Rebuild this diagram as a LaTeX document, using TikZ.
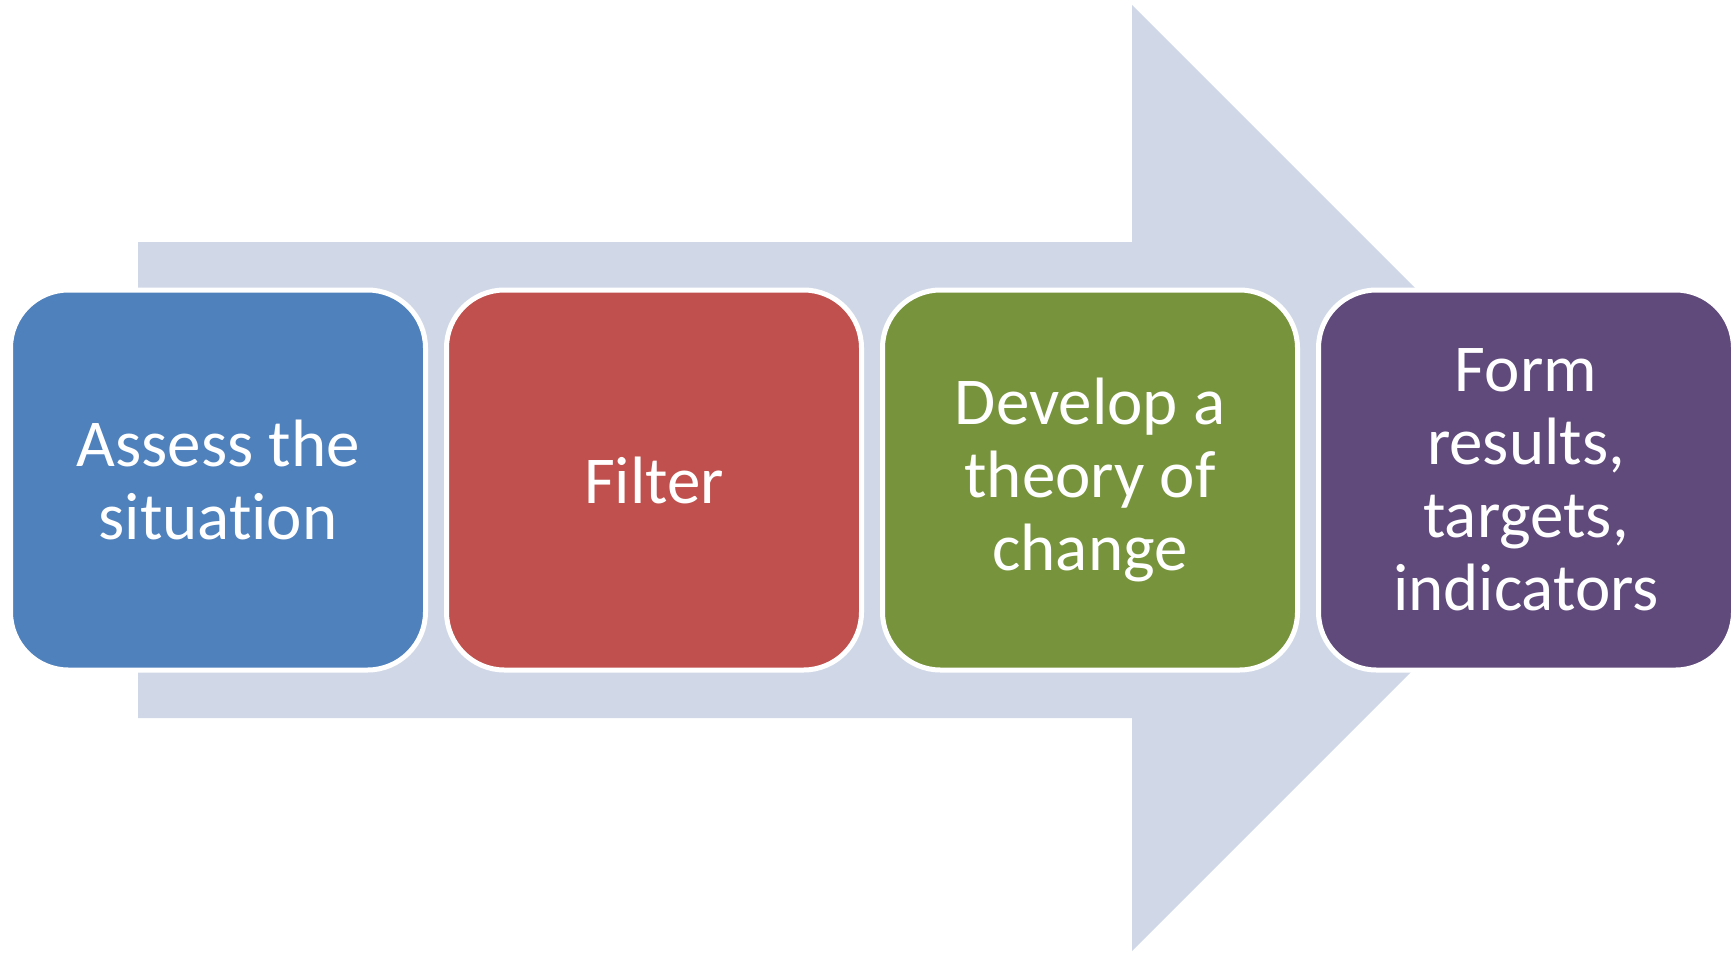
\documentclass[tikz,border=0pt]{standalone}
\usepackage{fontspec}
\setmainfont[Ligatures={NoCommon,NoRequired,NoContextual}]{Carlito}
\definecolor{arrowfill}{HTML}{D0D8E8}
\definecolor{cblue}{HTML}{4F81BD}
\definecolor{cred}{HTML}{C0504D}
\definecolor{cgreen}{HTML}{77933C}
\definecolor{cpurple}{HTML}{604A7B}
\begin{document}
\begin{tikzpicture}[x=1pt,y=-1pt,
  stagebox/.style={draw=white, line width=5pt, rounded corners=58pt,
    minimum width=415pt, minimum height=380pt, inner sep=0pt,
    text=white, align=center, font=\fontsize{67}{73}\selectfont}]
\useasboundingbox (0,0) rectangle (1734,953);
\fill[white] (0,0) rectangle (1734,953);
% big background arrow
\coordinate (a1) at (138,242);
\coordinate (a2) at (1132,242);
\coordinate (a3) at (1132,5);
\coordinate (a4) at (1605,478);
\coordinate (a5) at (1132,951);
\coordinate (a6) at (1132,718);
\coordinate (a7) at (138,718);
\fill[arrowfill] (a1) -- (a2) -- (a3) -- (a4) -- (a5) -- (a6) -- (a7) -- cycle;
% stages
\node[stagebox, fill=cblue] (s1) at (218,480) {Assess the\\situation};
\node[stagebox, fill=cred] (s2) at (654,480) {Filter};
\node[stagebox, fill=cgreen] (s3) at (1090,480) {Develop a\\theory of\\change};
\node[stagebox, fill=cpurple] (s4) at (1526,480) {Form\\results,\\targets,\\indicators};
\end{tikzpicture}
\end{document}
